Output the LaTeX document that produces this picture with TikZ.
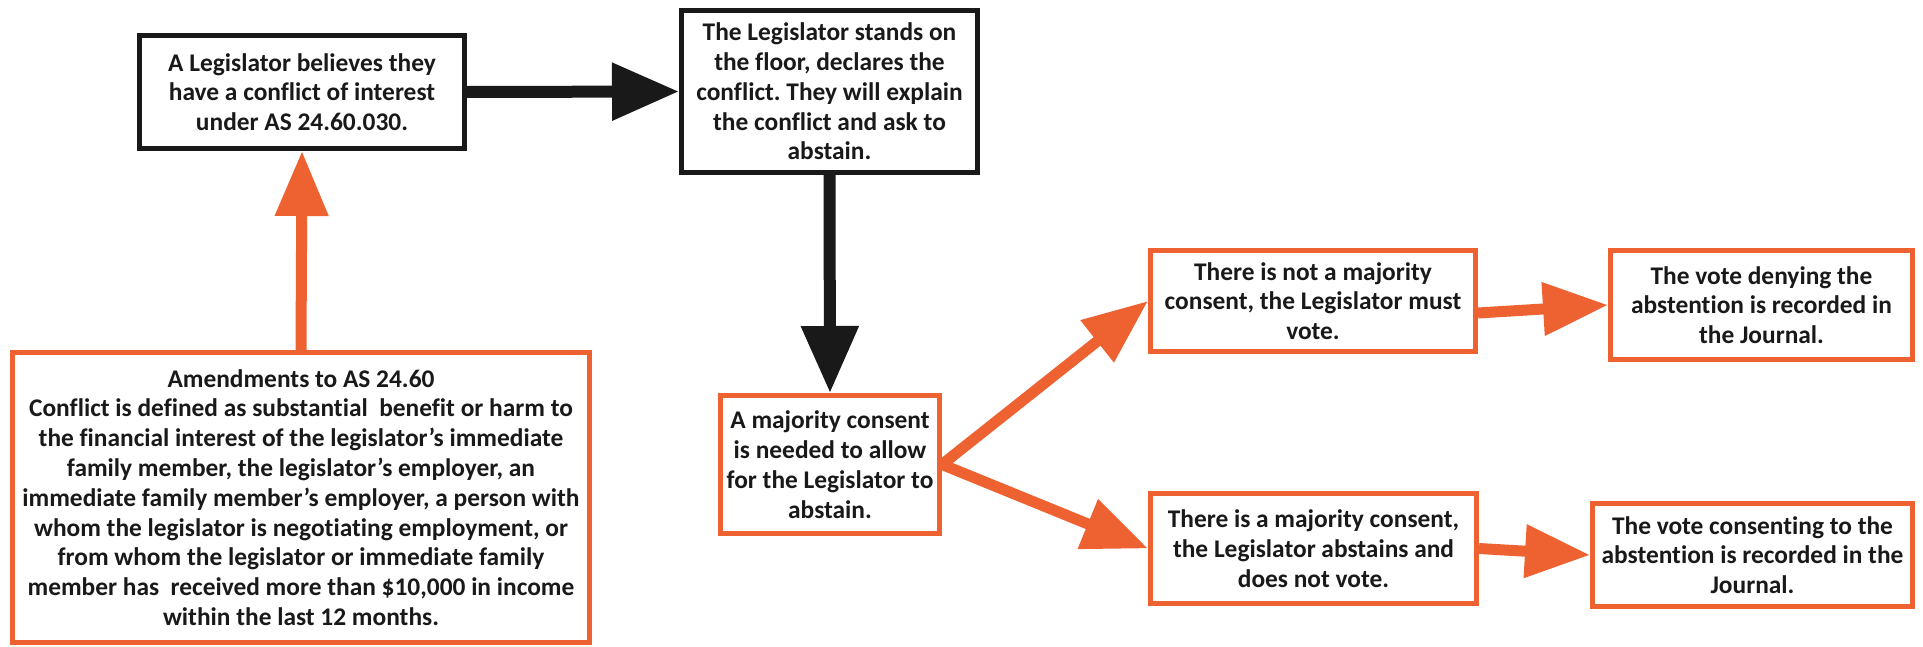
\documentclass[tikz,border=0pt]{standalone}
\usepackage{fontspec}
\setmainfont{Carlito}[Ligatures=NoCommon]
\frenchspacing
\usetikzlibrary{arrows.meta}
\definecolor{orng}{RGB}{238,98,50}
\definecolor{ink}{RGB}{25,25,25}
\tikzset{
  box/.style={draw, line width=5pt, fill=white, align=center, inner sep=0pt,
    font=\fontsize{25.4}{29.8}\selectfont\bfseries, text=ink},
  blackbox/.style={box, draw=ink},
  orangebox/.style={box, draw=orng},
  blackarrow/.style={draw=ink, line width=12pt, -{Triangle[length=67pt,width=55pt]}},
  orangearrow/.style={draw=orng, line width=11pt, -{Triangle[length=65pt,width=51pt]}}
}
\begin{document}
\begin{tikzpicture}[x=1pt,y=-1pt]
\useasboundingbox[fill=white] (0,0) rectangle (1923,647);

\node[blackbox, minimum width=325pt, minimum height=113pt] (b1) at (302,92)
  {A Legislator believes they\\have a conflict of interest\\under AS 24.60.030.};
\node[blackbox, minimum width=296pt, minimum height=162pt] (b2) at (829.5,91.5)
  {The Legislator stands on\\the floor, declares the\\conflict. They will explain\\the conflict and ask to\\abstain.};
\node[orangebox, minimum width=577pt, minimum height=290pt] (b3) at (301,497.5)
  {Amendments to AS 24.60\\
   Conflict is defined as substantial\ \ benefit or harm to\\
   the financial interest of the legislator’s immediate\\
   family member, the legislator’s employer, an\\
   immediate family member’s employer, a person with\\
   whom the legislator is negotiating employment, or\\
   from whom the legislator or immediate family\\
   member has\ \ received more than \$10,000 in income\\
   within the last 12 months.};
\node[orangebox, minimum width=219pt, minimum height=138pt] (b4) at (830,464.5)
  {A majority consent\\is needed to allow\\for the Legislator to\\abstain.};
\node[orangebox, minimum width=325pt, minimum height=101pt] (b5) at (1313,301)
  {There is not a majority\\consent, the Legislator must\\vote.};
\node[orangebox, minimum width=326pt, minimum height=110pt] (b7) at (1313.5,548.5)
  {There is a majority consent,\\the Legislator abstains and\\does not vote.};
\node[orangebox, minimum width=302pt, minimum height=109pt] (b6) at (1761.5,305)
  {The vote denying the\\abstention is recorded in\\the Journal.};
\node[orangebox, minimum width=320pt, minimum height=103pt] (b8) at (1752.5,555)
  {The vote consenting to the\\abstention is recorded in the\\Journal.};

\draw[blackarrow] (b1.east) -- (b2.west);
\draw[blackarrow] (b2.south) -- (b4.north);
\draw[orangearrow] (b3.north) -- (b1.south);
\draw[orangearrow] (b4.east) -- (b5.west);
\draw[orangearrow] (b4.east) -- (b7.west);
\draw[orangearrow] ([yshift=-12pt]b5.east) -- (b6.west);
\draw[orangearrow] (b7.east) -- (b8.west);
\end{tikzpicture}
\end{document}
